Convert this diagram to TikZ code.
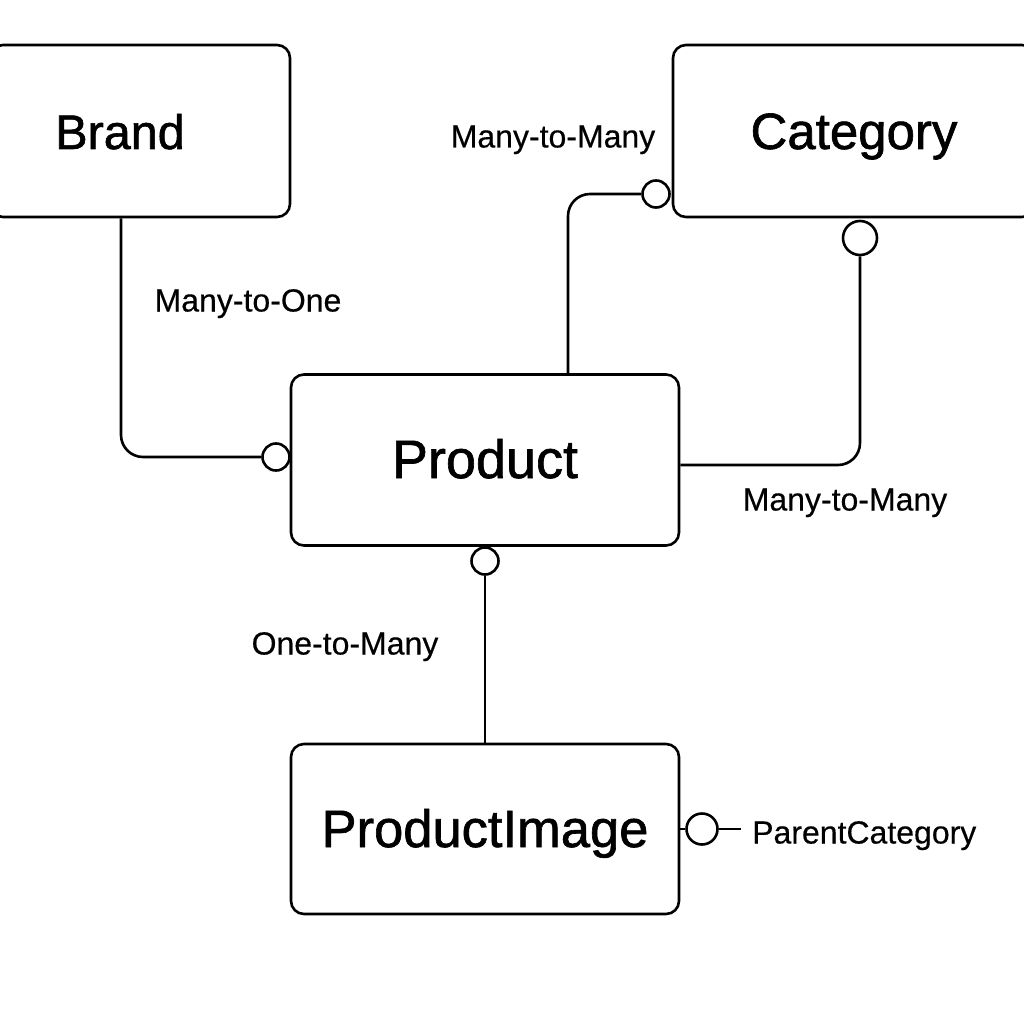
\documentclass[tikz,border=0pt]{standalone}
\usepackage{fontspec}
\setmainfont{Liberation Sans}
\newfontfamily\titlefont[FakeBold=1.2]{Liberation Sans}
\newfontfamily\labelfont[FakeBold=0.4]{Liberation Sans}
\usepackage{tikz}

\begin{document}
\begin{tikzpicture}[x=1pt, y=-1pt,
    entity/.style={draw, line width=2.6pt, rounded corners=13pt, fill=white,
        font=\titlefont\fontsize{#1}{56}\selectfont, inner sep=0pt,
        text height=36pt, text depth=0pt},
    entity/.default=51,
    port/.style={draw, circle, line width=2.6pt, fill=white, inner sep=0pt},
    link/.style={line width=2.6pt, rounded corners=22pt},
    rel/.style={font=\labelfont\fontsize{32}{36}\selectfont, inner sep=0pt,
        text height=23pt, text depth=0pt}]
    % Canvas
    \useasboundingbox (0,0) rectangle (1024,1024);

    % Entities
    \node[entity=48.5, minimum width=300pt, minimum height=172pt] (brand) at (140,131) {Brand\hspace*{40pt}};
    \node[entity, minimum width=362pt, minimum height=172pt] (category) at (854,131) {Category};
    \node[entity=54, minimum width=388pt, minimum height=171pt] (product) at (485,460) {Product};
    \node[entity=52.5, minimum width=388pt, minimum height=170pt] (image) at (485,829) {ProductImage};

    % Optional ends (circles)
    \node[port, minimum size=27pt] (pbrand) at (276,457) {};
    \node[port, minimum size=27pt] (pcatleft) at (656,194) {};
    \node[port, minimum size=34pt] (pcatdown) at (860,238) {};
    \node[port, minimum size=27pt] (pprod) at (485,561) {};
    \node[port, minimum size=31pt] (pimage) at (702,829) {};
    \coordinate (pend) at (741,829);

    % Connectors
    \draw[link] ([xshift=-19pt]brand.south) |- (pbrand.west);
    \draw[link] ([xshift=83pt]product.north) |- (pcatleft.west);
    \draw[link] (pcatdown.south) |- ([yshift=-5pt]product.east);
    \draw[link] (pprod.south) -- (image.north);
    \draw[link] (image.east) -- (pimage.west);
    \draw[link] (pimage.east) -- (pend);

    % Relationship labels
    \node[rel] (lcat) at (553,136) {Many-to-Many};
    \node[rel] (lbrand) at (248,300) {Many-to-One};
    \node[rel] (lprodcat) at (845,499) {Many-to-Many};
    \node[rel] (limage) at (345,643) {One-to-Many};
    \node[rel, anchor=west] (lparent) at (752,832) {ParentCategory};
\end{tikzpicture}
\end{document}
